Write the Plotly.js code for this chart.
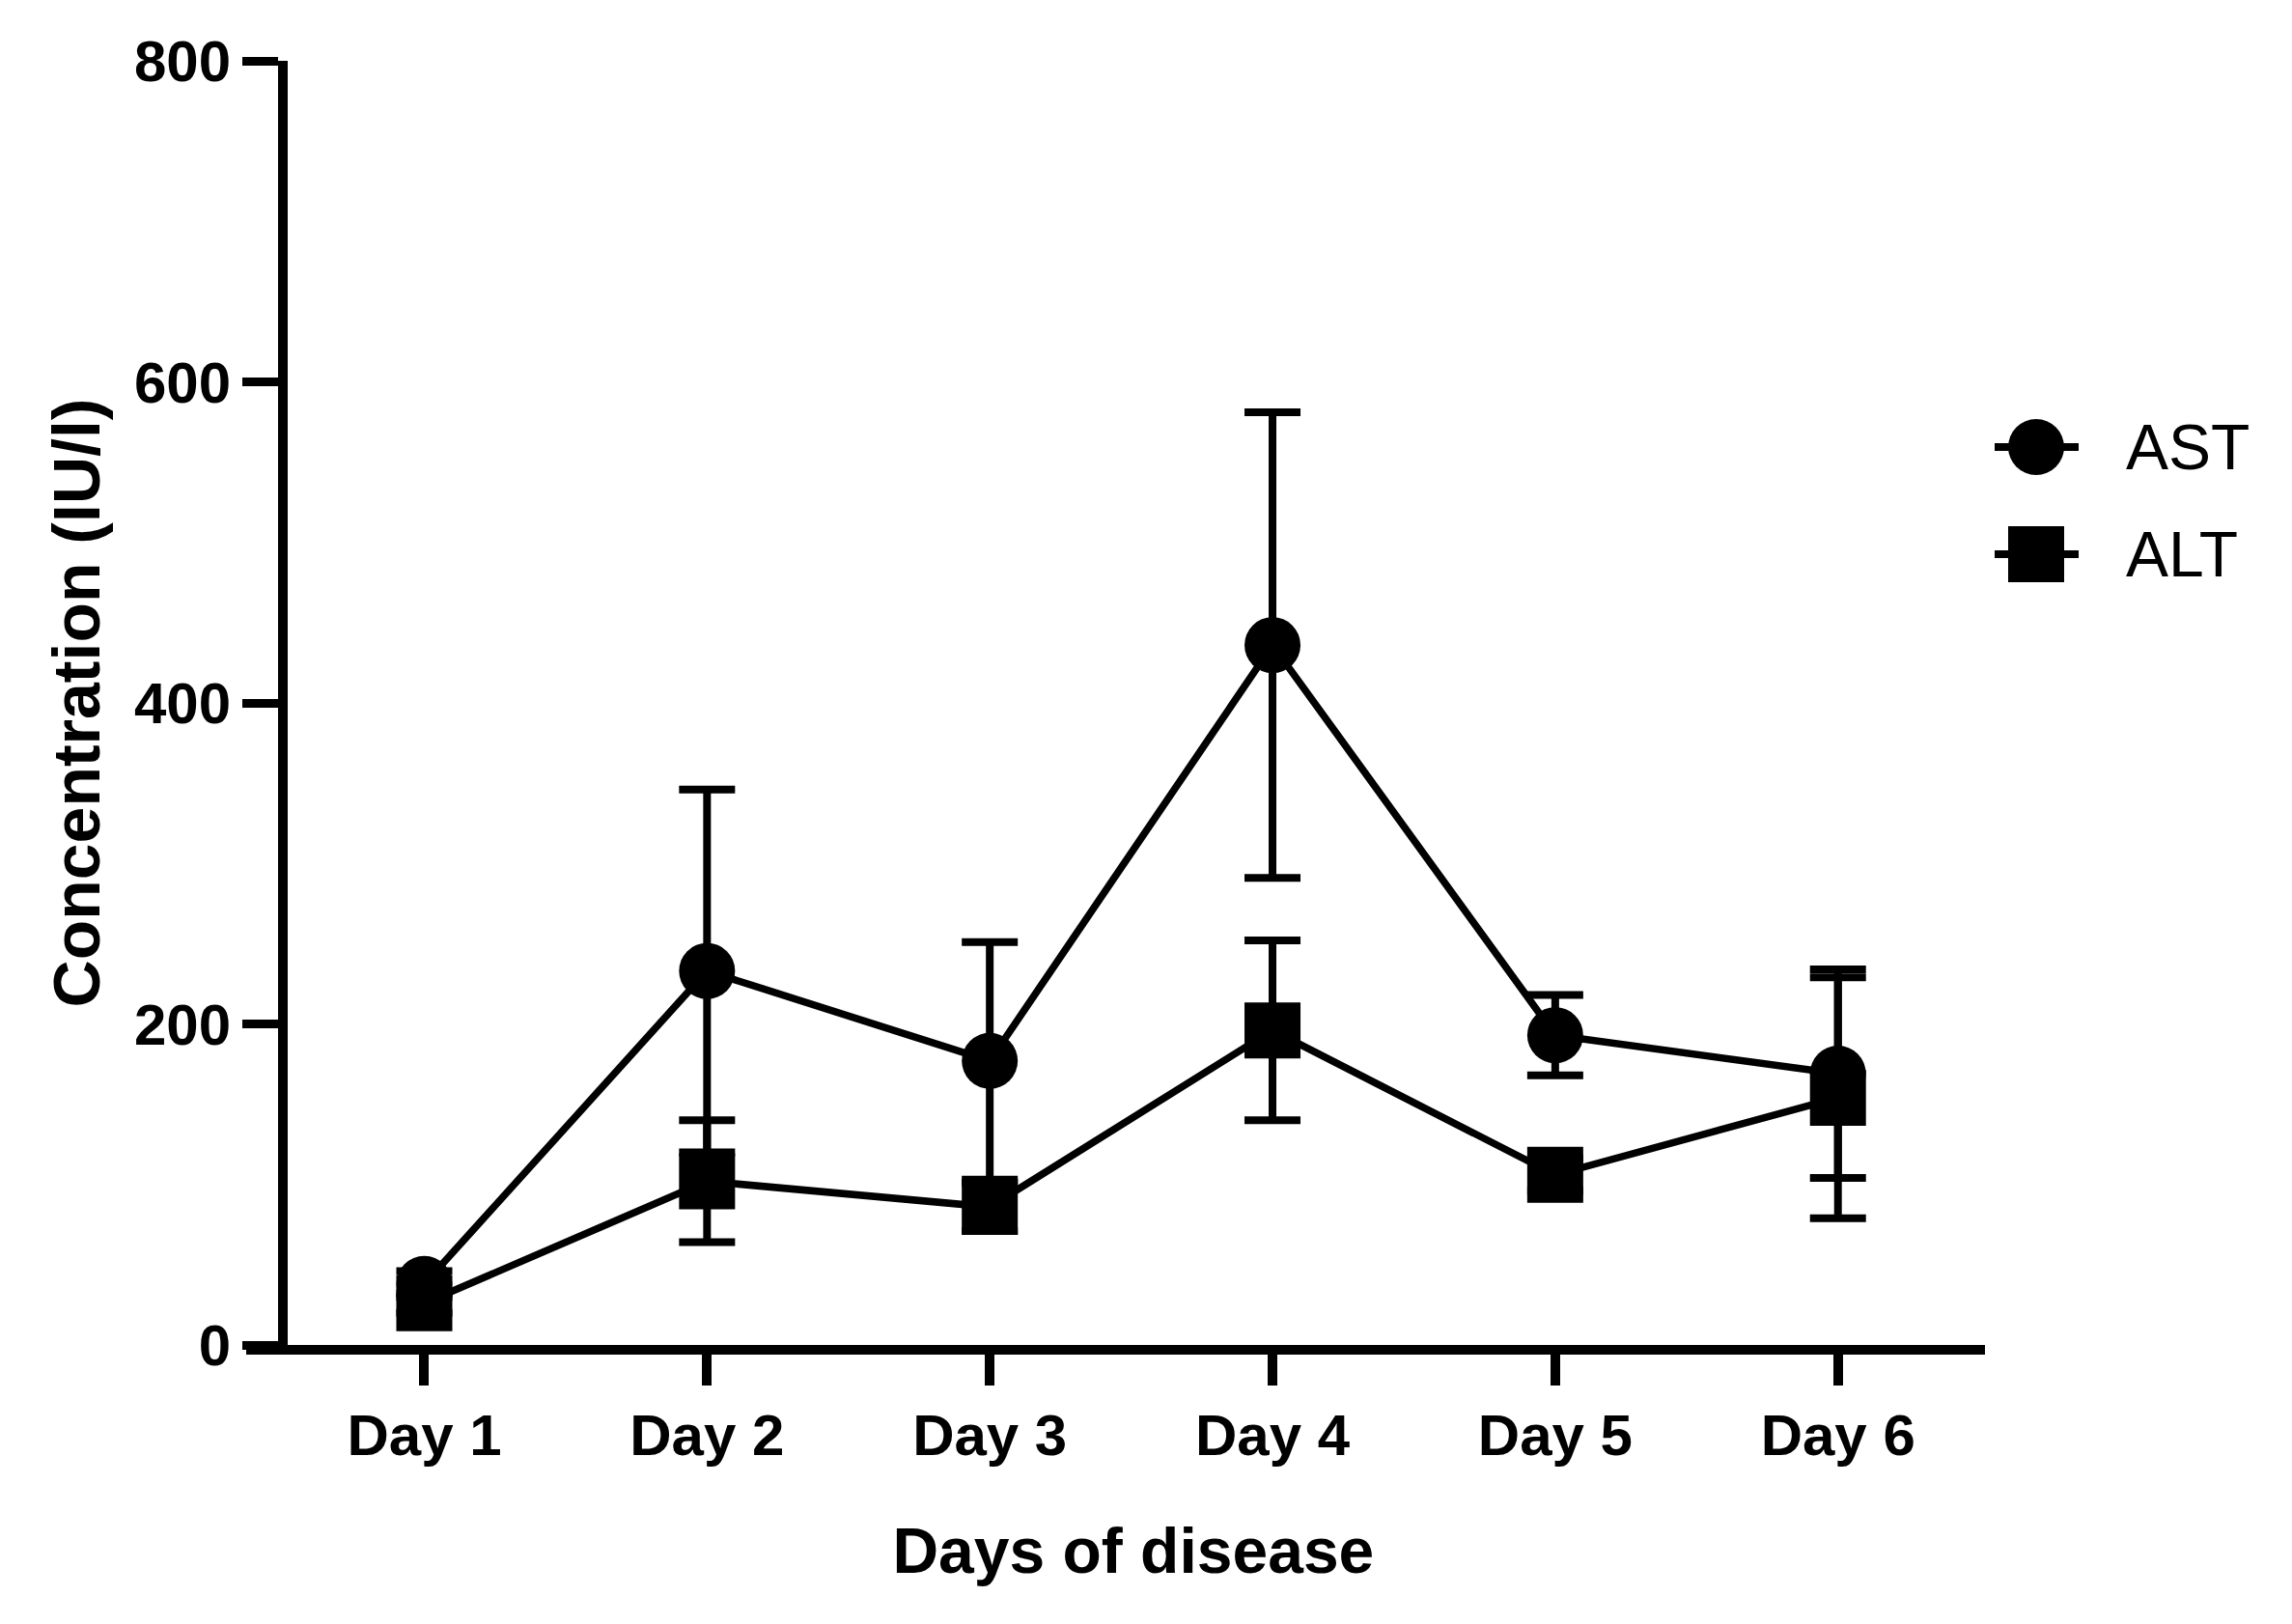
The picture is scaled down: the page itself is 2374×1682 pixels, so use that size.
<!DOCTYPE html>
<html>
<head>
<meta charset="utf-8">
<script src="https://cdn.plot.ly/plotly-3.0.1.min.js"></script>
<style>
  html, body { margin: 0; padding: 0; background: #fff; }
  #chart { width: 2374px; height: 1682px; }
</style>
</head>
<body>
<div id="chart"></div>
<script>
// AST / ALT by day of disease, mean with error bars
const days = ["Day 1", "Day 2", "Day 3", "Day 4", "Day 5", "Day 6"];
const astMean = [38, 233, 177, 436, 193, 169];
const astErr  = [8, 113, 74, 145, 25, 65];
const altMean = [26, 102, 86, 196, 106, 154];
const altErr  = [6, 38, 15, 56, 10, 75];
const seriesNames = ["AST", "ALT"];
const yTicks = [0, 200, 400, 600, 800];

const W = 2374, H = 1682;
const M = { l: 255, r: 318, t: 63, b: 289 };
const FONT = "Arial, 'Liberation Sans', Helvetica, sans-serif";

// pixel -> paper helpers (used only for the hand-made legend)
const plotW = W - M.l - M.r, plotH = H - M.t - M.b;
const px = v => (v - M.l) / plotW;
const py = v => (H - M.b - v) / plotH;

function series(name, y, err, symbol) {
  return {
    type: "scatter",
    mode: "lines+markers",
    name: name,
    x: days,
    y: y,
    line: { color: "#000", width: 7.5 },
    marker: { symbol: symbol, size: 58, color: "#000", line: { width: 0 } },
    error_y: { type: "data", array: err, visible: true, color: "#000", thickness: 8, width: 29 },
    showlegend: false,
    cliponaxis: false,
  };
}

const traces = [
  series(seriesNames[0], astMean, astErr, "circle"),
  series(seriesNames[1], altMean, altErr, "square"),
];

// ── legend drawn by hand so the symbols keep their real size ──
const legRows = [
  { cy: 463, kind: "circle" },
  { cy: 574, kind: "rect" },
];
const shapes = [];
const annotations = [];
legRows.forEach((r, i) => {
  shapes.push({
    type: "line", xref: "paper", yref: "paper",
    x0: px(2066), x1: px(2153), y0: py(r.cy), y1: py(r.cy),
    line: { color: "#000", width: 8 },
  });
  shapes.push({
    type: r.kind, xref: "paper", yref: "paper",
    x0: px(2080), x1: px(2138), y0: py(r.cy - 29), y1: py(r.cy + 29),
    fillcolor: "#000", line: { width: 0 },
  });
  annotations.push({
    xref: "paper", yref: "paper", x: px(2200), y: py(r.cy),
    xanchor: "left", yanchor: "middle", showarrow: false,
    text: seriesNames[i],
    font: { family: FONT, size: 66, color: "#000" },
  });
});

const layout = {
  width: W,
  height: H,
  margin: M,
  paper_bgcolor: "#fff",
  plot_bgcolor: "#fff",
  font: { family: FONT, color: "#000" },
  showlegend: false,
  xaxis: {
    type: "category",
    range: [-0.63, 5.52],
    showline: true, linecolor: "#000", linewidth: 10,
    showgrid: false, zeroline: false,
    ticks: "outside", ticklen: 32, tickwidth: 10, tickcolor: "#000",
    tickfont: { family: FONT, size: 60, color: "#000", weight: "bold" },
    title: { text: "&nbsp;&nbsp;<b>Days of disease</b>", font: { family: FONT, size: 66, color: "#000" }, standoff: 68 },
    automargin: false,
    fixedrange: true,
  },
  yaxis: {
    range: [0, 800],
    anchor: "free",
    position: 38 / plotW,
    tickvals: yTicks,
    showline: true, linecolor: "#000", linewidth: 10,
    showgrid: false, zeroline: false,
    ticks: "outside", ticklen: 37, tickwidth: 9, tickcolor: "#000",
    tickfont: { family: FONT, size: 60, color: "#000", weight: "bold" },
    title: { text: "<b>Concentration (IU/l)</b>", font: { family: FONT, size: 68, color: "#000" }, standoff: 12 },
    automargin: false,
    fixedrange: true,
  },
  shapes: shapes,
  annotations: annotations,
};

Plotly.newPlot("chart", traces, layout, { displayModeBar: false, staticPlot: true });
</script>
</body>
</html>
